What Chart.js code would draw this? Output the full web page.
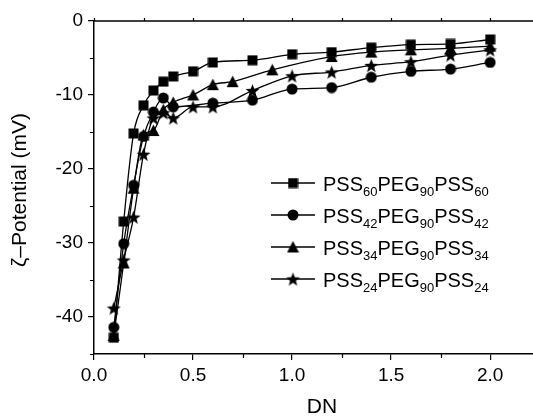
<!DOCTYPE html>
<html>
<head>
<meta charset="utf-8">
<script src="https://cdn.jsdelivr.net/npm/chart.js"></script>
<style>
  body { margin: 0; background: #fff; overflow: hidden; }
  #wrap { width: 533px; height: 420px; overflow: hidden; }
</style>
</head>
<body>
<div id="wrap"><canvas id="myChart" width="541" height="420"></canvas></div>
<script>
// data
const sqX = [0.1, 0.15, 0.2, 0.25, 0.3, 0.35, 0.4, 0.5, 0.6, 0.8, 1.0, 1.2, 1.4, 1.6, 1.8, 2.0];
const sqY = [-42.8, -27.1, -15.2, -11.4, -9.4, -8.2, -7.5, -6.8, -5.6, -5.3, -4.5, -4.2, -3.6, -3.2, -3.1, -2.5];

const ciX = [0.1, 0.15, 0.2, 0.25, 0.3, 0.35, 0.4, 0.6, 0.8, 1.0, 1.2, 1.4, 1.6, 1.8, 2.0];
const ciY = [-41.4, -30.1, -22.2, -15.6, -12.3, -10.4, -11.6, -11.1, -10.7, -9.2, -9.0, -7.6, -6.8, -6.5, -5.6];

const trX = [0.1, 0.15, 0.2, 0.25, 0.3, 0.35, 0.4, 0.5, 0.6, 0.7, 0.9, 1.2, 1.4, 1.6, 1.8, 2.0];
const trY = [-42.5, -32.7, -22.6, -15.4, -14.8, -12.0, -11.0, -10.0, -8.6, -8.2, -6.6, -4.8, -4.2, -3.9, -3.7, -3.4];

const stX = [0.1, 0.15, 0.2, 0.25, 0.3, 0.35, 0.4, 0.5, 0.6, 0.8, 1.0, 1.2, 1.4, 1.6, 1.8, 2.0];
const stY = [-38.8, -32.3, -26.5, -18.0, -13.1, -12.4, -13.1, -11.6, -11.6, -9.4, -7.4, -6.9, -6.0, -5.5, -4.6, -3.9];

const seriesSub = ["60", "42", "34", "24"];
const xTicks = [0, 0.5, 1.0, 1.5, 2.0];
const xMinor = [0.25, 0.75, 1.25, 1.75];
const yTicks = [0, -10, -20, -30, -40];
const yMinor = [-5, -15, -25, -35, -45];

const FONT = "'Liberation Sans', Arial, sans-serif";

const toPts = (xs, ys) => xs.map((x, i) => ({ x: x, y: ys[i] }));

// marker images
const makeMarker = (shape, size) => {
    const c = document.createElement("canvas");
    c.width = size;
    c.height = size;
    const g = c.getContext("2d");
    const m = size / 2;
    g.fillStyle = "#000";
    g.beginPath();
    if (shape == "square") {
        g.rect(0.5, 0.5, size - 1, size - 1);
    } else if (shape == "circle") {
        g.arc(m, m, m - 0.5, 0, Math.PI * 2);
    } else if (shape == "triangle") {
        g.moveTo(m, 0.5);
        g.lineTo(size - 0.5, size - 1);
        g.lineTo(0.5, size - 1);
        g.closePath();
    } else if (shape == "star") {
        const R = m - 0.2, r = R * 0.42;
        for (let i = 0; i < 10; i++) {
            const a = -Math.PI / 2 + i * Math.PI / 5;
            const rr = i % 2 == 0 ? R : r;
            const px = m + rr * Math.cos(a), py = m + 0.8 + rr * Math.sin(a);
            if (i == 0) g.moveTo(px, py); else g.lineTo(px, py);
        }
        g.closePath();
    }
    g.fill();
    return c;
};

const markers = [
    makeMarker("square", 11),
    makeMarker("circle", 12),
    makeMarker("triangle", 13),
    makeMarker("star", 15),
];

const mkSet = (xs, ys, i) => ({
    data: toPts(xs, ys),
    showLine: true,
    borderColor: "#000",
    backgroundColor: "#000",
    borderWidth: 1.3,
    cubicInterpolationMode: "monotone",
    pointStyle: markers[i],
    pointRadius: 6,
});

const extras = {
    id: "extras",
    afterDraw(chart) {
        const ctx = chart.ctx;
        const xs = chart.scales.x, ys = chart.scales.y;
        const a = chart.chartArea;
        ctx.save();
        ctx.strokeStyle = "#000";
        ctx.lineWidth = 1.5;
        // top axis
        ctx.beginPath();
        ctx.moveTo(a.left, a.top);
        ctx.lineTo(a.right, a.top);
        ctx.stroke();
        ctx.lineWidth = 1.2;
        ctx.beginPath();
        xTicks.concat(xMinor).forEach((v) => {
            const px = Math.round(xs.getPixelForValue(v)) + 0.5;
            ctx.moveTo(px, a.top);
            ctx.lineTo(px, a.top - 3);
        });
        // minor ticks
        xMinor.forEach((v) => {
            const px = Math.round(xs.getPixelForValue(v)) + 0.5;
            ctx.moveTo(px, a.bottom);
            ctx.lineTo(px, a.bottom + 4);
        });
        yMinor.forEach((v) => {
            const py = Math.round(ys.getPixelForValue(v)) + 0.5;
            ctx.moveTo(a.left, py);
            ctx.lineTo(a.left - 4, py);
        });
        ctx.stroke();

        // axis titles
        ctx.fillStyle = "#000";
        ctx.textAlign = "center";
        ctx.textBaseline = "middle";
        ctx.font = "21px " + FONT;
        ctx.fillText("DN", 322, 407);
        ctx.save();
        ctx.translate(20, 190);
        ctx.rotate(-Math.PI / 2);
        ctx.fillText("\u03B6\u2013Potential (mV)", 0, 0);
        ctx.restore();

        // legend
        const rowY = [183, 215, 247, 279];
        seriesSub.forEach((sub, i) => {
            const y = rowY[i];
            ctx.lineWidth = 1.3;
            ctx.beginPath();
            ctx.moveTo(271, y);
            ctx.lineTo(315, y);
            ctx.stroke();
            const mk = markers[i];
            ctx.drawImage(mk, 293 - mk.width / 2, y - mk.height / 2);
            ctx.textAlign = "left";
            ctx.textBaseline = "alphabetic";
            let x = 323;
            const base = y + 7.5;
            const parts = [["PSS", 0], [sub, 1], ["PEG", 0], ["90", 1], ["PSS", 0], [sub, 1]];
            parts.forEach(([t, isSub]) => {
                ctx.font = (isSub ? "13px " : "20px ") + FONT;
                ctx.fillText(t, x, isSub ? base + 5 : base);
                x += ctx.measureText(t).width;
            });
        });
        ctx.restore();
    },
};

const config = {
    type: "scatter",
    data: {
        datasets: [
            mkSet(sqX, sqY, 0),
            mkSet(ciX, ciY, 1),
            mkSet(trX, trY, 2),
            mkSet(stX, stY, 3),
        ],
    },
    options: {
        responsive: false,
        animation: false,
        layout: { padding: { top: 21, right: 0, left: 0, bottom: 0 } },
        plugins: { legend: { display: false }, tooltip: { enabled: false } },
        scales: {
            x: {
                type: "linear",
                min: 0,
                max: 2.22,
                afterBuildTicks: (s) => { s.ticks = xTicks.map((v) => ({ value: v })); },
                afterFit: (s) => { s.height = 66; },
                ticks: {
                    color: "#000",
                    font: { family: FONT, size: 19 },
                    padding: 4,
                    maxRotation: 0,
                    callback: (v) => Number(v).toFixed(1),
                },
                grid: { display: true, drawOnChartArea: false, drawTicks: true, tickLength: 6, color: "#000", lineWidth: 1.2 },
                border: { display: true, color: "#000", width: 1.5 },
            },
            y: {
                type: "linear",
                min: -45,
                max: 0,
                afterBuildTicks: (s) => { s.ticks = yTicks.map((v) => ({ value: v })); },
                afterFit: (s) => { s.width = 94; },
                ticks: {
                    color: "#000",
                    font: { family: FONT, size: 19 },
                    padding: 5,
                    callback: (v) => String(v),
                },
                grid: { display: true, drawOnChartArea: false, drawTicks: true, tickLength: 6, color: "#000", lineWidth: 1.2 },
                border: { display: true, color: "#000", width: 1.5 },
            },
        },
    },
    plugins: [extras],
};

new Chart(document.getElementById("myChart"), config);
</script>
</body>
</html>
